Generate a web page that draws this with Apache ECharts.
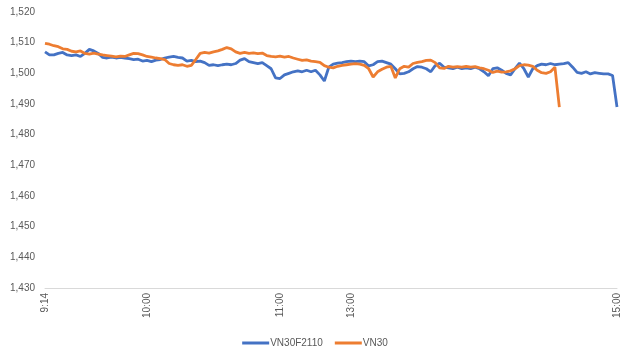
<!DOCTYPE html>
<html>
<head>
<meta charset="utf-8">
<script src="https://cdn.jsdelivr.net/npm/echarts@6/dist/echarts.min.js"></script>
<style>html,body{margin:0;padding:0;background:#fff}#c{width:630px;height:360px}</style>
</head>
<body>
<div id="c"></div>
<script>
// Sessions (2-minute sampling)
const sessions = [["9:14", "11:30"], ["13:00", "15:00"]];
const stepMinutes = 2;
// Tick labels shown on the category axis
const shownLabels = ["9:14", "10:00", "11:00", "13:00", "15:00"];
const seriesNames = ["VN30F2110", "VN30"];

const vn30f = [
  1507, 1506, 1506, 1506.5, 1506.8, 1506, 1505.8, 1506, 1505.5, 1506.5,
  1507.8, 1507.3, 1506.5, 1505.2, 1505, 1505.3, 1505, 1505.2, 1505, 1504.8,
  1504.5, 1504.6, 1504, 1504.2, 1503.8, 1504.3, 1504.5, 1505, 1505.3, 1505.5,
  1505.2, 1505, 1504, 1504.2, 1503.8, 1504, 1503.5, 1502.6, 1502.8, 1502.5,
  1502.8, 1503, 1502.8, 1503.2, 1504.3, 1504.8, 1503.8, 1503.5, 1503.2, 1503.5,
  1502.5, 1501.5, 1498.5, 1498.3, 1499.5, 1500, 1500.5, 1500.8, 1500.5, 1501,
  1500.5, 1501, 1499.5, 1497.5, 1502, 1503, 1503.3, 1503.5, 1503.8, 1504,
  1503.8, 1504, 1503.8, 1502.4, 1502.8, 1503.8, 1504, 1503.5, 1503, 1501.5,
  1499.8, 1500, 1500.5, 1501.5, 1502.2, 1502, 1501.5, 1500.5, 1502.5, 1503.3,
  1502, 1501.8, 1501.5, 1502, 1501.5, 1501.8, 1501.5, 1502, 1501.5, 1500.5,
  1499.2, 1501.5, 1501.8, 1501, 1500, 1499.5, 1501.5, 1503.3, 1501.5, 1498.8,
  1501.5, 1502.5, 1503, 1502.8, 1503.2, 1502.8, 1503, 1503.2, 1503.5, 1502,
  1500.3, 1500, 1500.5, 1499.8, 1500.2, 1500, 1499.8, 1499.8, 1499.3, 1489
];
const vn30 = [
  1509.8, 1509.5, 1509, 1508.7, 1508, 1507.8, 1507.2, 1507, 1507.3, 1506.5,
  1506.3, 1506.6, 1506.3, 1506, 1505.8, 1505.6, 1505.4, 1505.6, 1505.5, 1506,
  1506.5, 1506.4, 1506, 1505.5, 1505.3, 1505, 1504.8, 1504.5, 1503.2, 1502.8,
  1502.6, 1502.8, 1502.3, 1502.6, 1504.5, 1506.5, 1506.8, 1506.6, 1507, 1507.3,
  1507.8, 1508.4, 1508, 1507, 1506.5, 1506.8, 1506.5, 1506.7, 1506.4, 1506.6,
  1505.8, 1505.5, 1505.4, 1505.6, 1505.3, 1505.5, 1505, 1504.6, 1504.2, 1504.4,
  1504, 1503.8, 1503.6, 1502.5, 1502, 1501.8, 1502.3, 1502.6, 1502.8, 1503,
  1503.2, 1503, 1502.6, 1501.5, 1498.8, 1500.5, 1501.3, 1502, 1502.3, 1498.5,
  1501.5, 1502.3, 1502, 1503.2, 1503.6, 1503.8, 1504.2, 1504.3, 1503.5, 1501.8,
  1501.6, 1502.3, 1502, 1502.2, 1502, 1502.3, 1502, 1502.2, 1501.8, 1501.5,
  1501, 1500.3, 1500.7, 1500.4, 1500.5, 1500.8, 1501.5, 1502.5, 1502.8, 1502.7,
  1502.3, 1501, 1500.2, 1500, 1500.5, 1502, 1489
];

function toMin(s) { const p = s.split(":"); return +p[0] * 60 + +p[1]; }
function fmt(m) { return Math.floor(m / 60) + ":" + String(m % 60).padStart(2, "0"); }
const categories = [];
sessions.forEach(([a, b]) => {
  for (let m = toMin(a); m <= toMin(b); m += stepMinutes) categories.push(fmt(m));
});

const chart = echarts.init(document.getElementById("c"), null, { renderer: "canvas" });
const font = "'Liberation Sans', Arial, sans-serif";
chart.setOption({
  animation: false,
  textStyle: { fontFamily: font },
  color: ["#4472C4", "#ED7D31"],
  grid: { left: 45, right: 13, top: 12, bottom: 72, containLabel: false },
  legend: {
    data: seriesNames,
    top: 333,
    left: "center",
    icon: "rect",
    itemWidth: 27,
    itemHeight: 3,
    itemGap: 12,
    textStyle: { color: "#595959", fontSize: 10, fontFamily: font, padding: [0, 0, 0, -4] }
  },
  xAxis: {
    type: "category",
    data: categories,
    boundaryGap: false,
    axisLine: { lineStyle: { color: "#d9d9d9", width: 1 } },
    axisTick: { show: false },
    splitLine: { show: false },
    axisLabel: {
      rotate: 90,
      color: "#595959",
      fontSize: 10,
      fontFamily: font,
      margin: 5,
      interval: function (i, v) { return shownLabels.indexOf(v) >= 0; }
    }
  },
  yAxis: {
    type: "value",
    min: 1430,
    max: 1520,
    interval: 10,
    axisLine: { show: false },
    axisTick: { show: false },
    splitLine: { show: false },
    axisLabel: {
      color: "#595959",
      fontSize: 10,
      fontFamily: font,
      margin: 10,
      formatter: function (v) { return v.toLocaleString("en-US"); }
    }
  },
  series: [
    { name: seriesNames[0], type: "line", data: vn30f, showSymbol: false, lineStyle: { width: 2.8 }, z: 2 },
    { name: seriesNames[1], type: "line", data: vn30, showSymbol: false, lineStyle: { width: 2.8 }, z: 3 }
  ]
});
</script>
</body>
</html>
